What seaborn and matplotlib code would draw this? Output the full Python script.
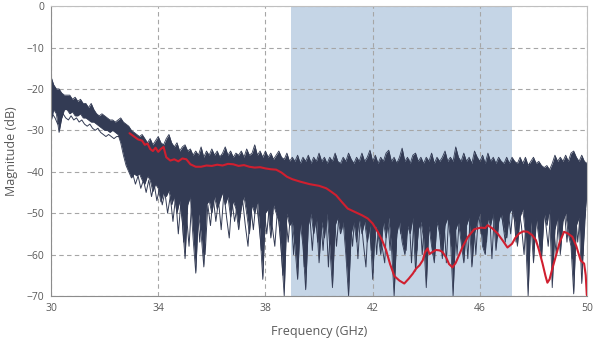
import numpy as np
import pandas as pd
import matplotlib.pyplot as plt
import seaborn as sns

# frequency grid of the measured sweeps (GHz), 0.1 GHz step
freq = np.round(np.linspace(30, 50, 201), 1)
# second set of sweeps, sampled half way between
freq_mid = np.round(np.linspace(30.05, 49.95, 200), 2)

# top edge of the bundle of measured traces (dB), one row per GHz
upper_db = [
    -17, -19, -20, -20, -21, -21.5, -21.5, -21.5, -22.5, -22,
    -23, -22.5, -23.5, -23.5, -24.5, -23.5, -25, -26, -26.5, -26,
    -26.5, -27, -27.5, -27.5, -28, -27.5, -27, -28, -28.5, -29,
    -30, -30.5, -31, -31.5, -31, -32, -33, -32, -33.5, -32.5,
    -31.5, -33, -33.5, -32, -31, -33, -34, -33, -35, -34,
    -33.5, -35, -34.5, -36, -35, -36, -34, -36.5, -35, -36,
    -34.5, -36, -35, -36.5, -35.5, -34, -36, -35, -36.5, -35.5,
    -36, -35, -36.5, -34.5, -36, -35.5, -33.5, -36, -35, -36.5,
    -35, -36.5, -35.5, -37, -36, -35, -36.5, -37, -35.5, -37.5,
    -36.5, -37.5, -36, -38, -36.5, -37.5, -36, -38, -36.5, -37.5,
    -35.5, -37.5, -36.5, -38, -36.5, -37.5, -35.5, -37.5, -38, -36.5,
    -37.5, -35.5, -37, -38, -36.5, -37.5, -35.5, -37.5, -36.5, -34.8,
    -37.5, -36, -38, -36.5, -37.5, -35.5, -34.8, -37.5, -36.5, -38,
    -36.5, -34.3, -37.5, -36.5, -38, -36, -35.5, -37.5, -36.5, -38,
    -36.5, -37.5, -35.5, -38, -36.5, -37.5, -36.5, -35, -37.5, -36.5,
    -37.5, -34, -36.5, -37.5, -35.5, -37.5, -36.5, -38, -35, -36.5,
    -37.5, -36, -38, -35.5, -37.5, -36.5, -38, -36.5, -37.5, -38,
    -36.5, -38, -36.5, -37.5, -38, -36.5, -38, -36.5, -38.5, -37.5,
    -36.5, -38, -37.5, -38.5, -39, -38.5, -39.5, -38, -36, -37.5,
    -36.5, -37.5, -36, -37.5, -35.5, -35, -36.5, -37.5, -36, -37.5,
    -38,
]

# bottom edge of the bundle (dB), with the deep notches
lower_db = [
    -28, -25, -26, -30.5, -27, -25, -25, -26, -25.5, -26.5,
    -26.5, -26, -27, -27, -27.5, -28, -28, -28.5, -29, -29.5,
    -30, -30, -30.5, -30, -30.5, -31, -33, -36, -38.5, -40,
    -41.5, -40.5, -41, -40.5, -42, -43, -41, -42, -44.8, -43,
    -44, -47.3, -45, -46, -44.5, -48, -46, -50, -47, -52,
    -61, -48, -46, -56, -64.5, -50, -55, -63, -48, -47,
    -50, -46, -49, -47, -45, -48, -46, -51, -47, -49,
    -54, -48, -46, -50, -55, -48, -50, -47, -55, -66,
    -50, -49, -56, -48, -50, -52, -60, -70, -50, -53,
    -52, -58, -66, -52, -58, -68.5, -53, -50, -55, -51,
    -62, -52, -56, -50, -58, -68, -53, -51, -55, -52,
    -60, -70, -55, -52, -57, -51, -55, -52, -57, -53,
    -66, -53, -55, -60, -52, -56, -51, -58, -70, -55,
    -52, -57, -60, -53, -55, -51, -64, -54, -52, -56,
    -68, -53, -58, -62, -52, -55, -61, -53, -51, -56,
    -70, -54, -52, -57, -62, -53, -51, -63, -55, -52,
    -50, -58, -60, -51, -53, -50, -59, -52, -50, -54,
    -56, -50, -49, -52, -58, -51, -49, -55, -70, -52,
    -62, -51, -56, -61, -50, -53, -49, -68, -54, -51,
    -60, -52, -50, -55, -58, -69.5, -53, -51, -67, -52,
    -45,
]

# sweep near the top of the bundle (dB), on freq_mid
sweep_top_db = [
    -21, -23, -24, -23, -22.5, -23.5, -23, -24, -24.5, -24,
    -24.5, -25, -24.5, -25.5, -26, -25.5, -26.5, -27.5, -27, -28,
    -28, -28.5, -29, -28.5, -29.5, -29, -30, -31, -32, -31.5,
    -32, -33, -34, -33.5, -35, -34, -36, -35, -34.5, -36,
    -35, -34.5, -36, -37, -35.5, -37, -36, -37.5, -36, -35.5,
    -38, -36.5, -37.5, -39, -36.5, -38, -40, -37, -38.5, -36.5,
    -39, -37, -40, -36, -38.5, -39.5, -37, -40, -38, -36.5,
    -39, -37.5, -41, -38, -36.5, -39, -40, -37.5, -39.5, -38,
    -40, -37.5, -39, -41, -38.5, -37, -40, -38.5, -41, -37.5,
    -39, -41, -37.5, -40.5, -38.5, -42, -37, -40, -38.5, -41,
    -37.5, -40, -42, -38, -41, -37.5, -40.5, -39, -42, -38.5,
    -40, -37, -41.5, -39, -42, -38.5, -40, -41.5, -37.5, -40,
    -38.5, -42, -39, -37.5, -41, -39.5, -42.5, -38, -40.5, -37.5,
    -41, -39, -42, -37, -40.5, -38.5, -41.5, -39, -42, -38,
    -40, -37.5, -41.5, -39, -42, -38, -40.5, -37, -41, -39.5,
    -38.5, -42, -37.5, -40, -41.5, -38, -42, -39, -37.5, -41,
    -39, -42, -38, -40.5, -37.5, -41.5, -39, -42, -38.5, -40,
    -41.5, -38, -40, -42, -38.5, -41, -39.5, -42.5, -38, -40.5,
    -39, -41.5, -38.5, -42, -40.5, -43, -41, -39.5, -37.5, -40,
    -38.5, -41, -37.5, -40, -38, -41.5, -39, -37.5, -40.5, -39,
]

# sweep near the bottom of the bundle (dB), on freq_mid
sweep_bottom_db = [
    -26, -27, -28.5, -28, -26, -27, -27.5, -26.5, -27.5, -27,
    -28, -27.5, -28.5, -29, -28.5, -29.5, -30, -29.5, -30.5, -31,
    -31.5, -31, -31.5, -32, -31.5, -31.5, -33, -35, -37.5, -39,
    -40.5, -43, -41, -44, -42, -45, -42, -46, -43, -47,
    -44, -48, -45, -50, -46, -52, -46, -55, -47, -57,
    -50, -58, -47, -54, -48, -57, -46, -60, -48, -53,
    -46, -52, -47, -54, -45, -51, -56, -47, -52, -48,
    -51, -47, -53, -58, -48, -54, -47, -52, -59, -49,
    -55, -48, -53, -58, -49, -55, -65, -50, -57, -49,
    -60, -50, -57, -49, -63, -51, -50, -59, -49, -57,
    -50, -59, -49, -63, -50, -48, -58, -50, -54, -49,
    -62, -50, -58, -49, -61, -50, -57, -63, -50, -59,
    -50, -60, -49, -58, -62, -50, -59, -49, -61, -50,
    -55, -50, -59, -49, -62, -50, -59, -49, -60, -50,
    -54, -49, -60, -50, -49, -59, -50, -62, -49, -58,
    -50, -60, -49, -58, -50, -61, -50, -49, -60, -50,
    -55, -49, -57, -48, -61, -49, -56, -49, -52, -57,
    -49, -55, -48, -57, -49, -53, -60, -48, -56, -49,
    -57, -49, -59, -48, -52, -58, -49, -53, -60, -49,
    -53, -49, -57, -49, -61, -48, -57, -50, -60, -49,
]

# averaged response (red)
red_freq = [
    32.93, 33.1, 33.25, 33.4, 33.5, 33.6, 33.7, 33.8, 33.9, 34.0,
    34.1, 34.2, 34.3, 34.45, 34.6, 34.75, 34.9, 35.05, 35.2, 35.4,
    35.6, 35.8, 36.0, 36.2, 36.4, 36.6, 36.8, 37.0, 37.2, 37.4,
    37.6, 37.8, 38.0, 38.2, 38.4, 38.6, 38.8, 39.0, 39.3, 39.65,
    40.0, 40.27, 40.45, 40.64, 40.85, 41.07, 41.3, 41.6, 41.82, 42.0,
    42.19, 42.35, 42.5, 42.65, 42.81, 43.0, 43.18, 43.35, 43.5, 43.62,
    43.75, 43.87, 43.95, 44.05, 44.12, 44.2, 44.36, 44.5, 44.61, 44.75,
    44.85, 44.98, 45.1, 45.2, 45.36, 45.55, 45.79, 46.04, 46.2, 46.29,
    46.45, 46.66, 46.85, 47.03, 47.2, 47.32, 47.47, 47.62, 47.78, 47.95,
    48.09, 48.2, 48.34, 48.45, 48.52, 48.6, 48.7, 48.83, 48.98, 49.14,
    49.28, 49.45, 49.6, 49.76, 49.89, 49.95, 49.99,
]
red_db = [
    -30.7, -31.5, -32.2, -32.5, -33.5, -33.2, -34.5, -35, -34.2, -35.2,
    -34.5, -34, -36.5, -37.3, -37, -37.5, -36.8, -37, -38.2, -38.8,
    -38.8, -38.5, -38.6, -38.3, -38.5, -38.1, -38.2, -38.6, -38.4, -38.8,
    -39.0, -38.9, -39.2, -39.4, -39.5, -40.2, -41.2, -41.8, -42.4, -43.0,
    -43.4, -44.0, -44.8, -45.7, -47.3, -48.9, -49.6, -50.5, -51.3, -52.5,
    -54.5, -56.5, -58.9, -62.3, -65.2, -66.3, -67.0, -65.8, -64.6, -63.4,
    -62.6, -61.4, -59.5, -58.5, -59.9, -59.5, -58.9, -59.0, -59.4, -60.8,
    -62.3, -63.1, -62.0, -60.5, -58.1, -55.8, -53.9, -53.5, -53.6, -52.9,
    -53.6, -54.9, -56.6, -58.3, -57.4, -56.0, -54.9, -54.4, -54.5, -55.3,
    -56.5, -58.8, -62.2, -65.2, -66.8, -66.0, -63.5, -60.5, -57.0, -54.5,
    -54.9, -55.7, -58.0, -61.4, -62.2, -65.0, -69.8,
]

x_ticks = [30, 34, 38, 42, 46, 50]
y_ticks = [0, -10, -20, -30, -40, -50, -60, -70]
band_start, band_end = 38.95, 47.2

navy = '#333b54'
red = '#d01f2f'
grey = '#595959'

sns.set_theme(style='white')
plt.rcParams['font.family'] = ['Open Sans', 'DejaVu Sans']

fig = plt.figure(figsize=(5.93, 3.39), dpi=100)
ax = fig.add_axes([0.086, 0.127, 0.904, 0.855])

ax.axvspan(band_start, band_end, color='#c5d5e6', lw=0, zorder=0.2)

traces = pd.DataFrame({'freq': freq, 'upper': upper_db, 'lower': lower_db})
sweeps = pd.DataFrame({'freq': freq_mid, 'top': sweep_top_db, 'bottom': sweep_bottom_db})
ax.fill_between(traces['freq'], traces['lower'], traces['upper'], color=navy, lw=0, zorder=2)
for col in ['upper', 'lower']:
    sns.lineplot(data=traces, x='freq', y=col, color=navy, lw=0.6, ax=ax, zorder=2)
for col in ['top', 'bottom']:
    sns.lineplot(data=sweeps, x='freq', y=col, color=navy, lw=0.7, ax=ax, zorder=2)

avg = pd.DataFrame({'freq': red_freq, 'db': red_db})
sns.lineplot(data=avg, x='freq', y='db', color=red, lw=1.5, ax=ax, zorder=3, sort=False)

ax.set_xlim(30, 50)
ax.set_ylim(-70, 0)
ax.set_xticks(x_ticks)
ax.set_yticks(y_ticks)
ax.grid(True, ls=(0, (4, 3)), color='#a6a6a6', lw=0.8)
ax.tick_params(length=0, labelsize=7.5, colors=grey, pad=5)
for s in ax.spines.values():
    s.set_color('#bfbfbf')
    s.set_linewidth(0.8)
ax.spines['left'].set_color('#8c8c8c')
ax.spines['bottom'].set_color('#8c8c8c')

ax.set_xlabel('Frequency (GHz)', fontsize=9, color=grey, labelpad=8)
ax.set_ylabel('Magnitude (dB)', fontsize=9, color=grey, labelpad=6)

fig.savefig('out.png', dpi=100)
